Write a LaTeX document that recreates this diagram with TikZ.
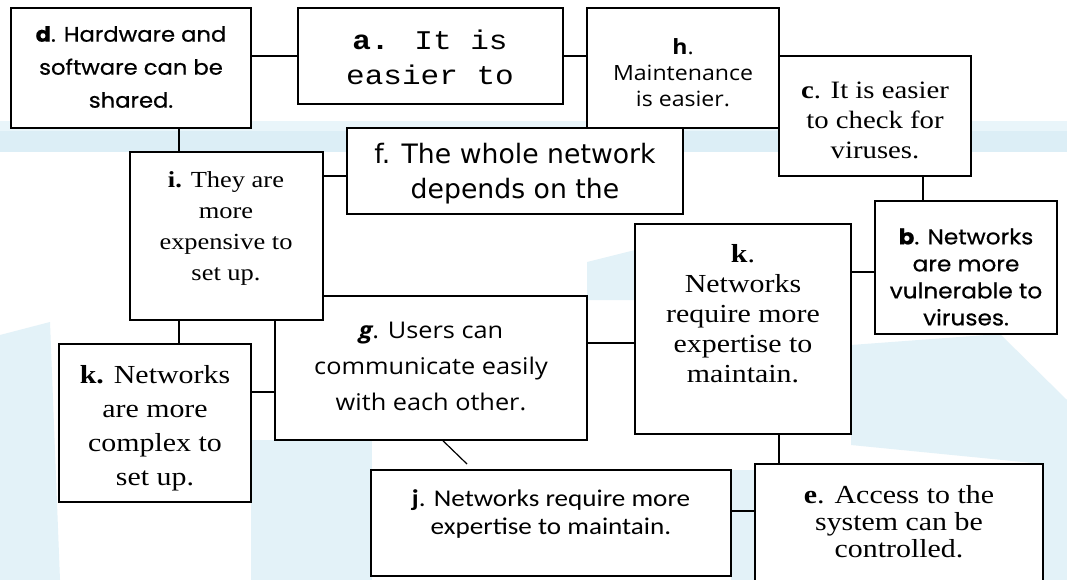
\documentclass[tikz,border=0pt]{standalone}
\usepackage{fontspec}
\newfontfamily\geo[FakeStretch=1.08,FakeBold=0.6]{Poppins}
\newfontfamily\mono[FakeStretch=1.15]{Liberation Mono}
\newfontfamily\comic[FakeStretch=1.1]{Open Sans}
\newfontfamily\tms[FakeStretch=1.15]{Liberation Serif}
\newfontfamily\camb[FakeStretch=1.15]{Liberation Serif}
\newfontfamily\tah{DejaVu Sans}
\newfontfamily\calib[FakeStretch=1.13]{Carlito}
\definecolor{wm}{RGB}{227,242,248}
\definecolor{band}{RGB}{220,238,246}
\definecolor{bandlt}{RGB}{233,245,250}
\tikzset{
  boxst/.style={draw=black, fill=white, line width=1.6pt, inner sep=0pt, rectangle},
  txt/.style={align=center, inner sep=0pt},
  conn/.style={draw=black, line width=1.4pt},
}
\newcommand\mybox[5]{\node[boxst, minimum width={#4-#2}, minimum height={#5-#3}] (#1) at ({(#2+#4)/2},{(#3+#5)/2}) {};}
\newcommand\fs[2]{\fontsize{#1}{#2}\selectfont}
\begin{document}
\begin{tikzpicture}[x=1pt,y=-1pt]
\useasboundingbox (0,0) rectangle (1067,580);
\fill[white] (0,0) rectangle (1067,580);
% background band and watermark
\fill[bandlt] (0,121) rectangle (1067,131);
\fill[band] (0,131) rectangle (1067,152);
\fill[wm] (0,335) -- (50,322) -- (60,580) -- (0,580) -- cycle;
\fill[wm] (251,440) -- (372,440) -- (372,580) -- (251,580) -- cycle;
\fill[wm] (731,470) -- (755,470) -- (755,580) -- (731,580) -- cycle;
\fill[wm] (851,345) -- (1000,334) -- (1067,400) -- (1067,580) -- (1043,580) -- (1043,464) -- (851,445) -- cycle;
\fill[wm] (587,262) -- (635,250) -- (635,300) -- (587,300) -- cycle;
% boxes
\mybox{d}{11}{8}{251}{128}
\mybox{a}{298}{8}{563}{104}
\mybox{h}{587}{8}{779}{128}
\mybox{c}{779}{56}{971}{176}
\mybox{f}{347}{128}{683}{214}
\mybox{g}{275}{296}{587}{440}
\mybox{i}{130}{152}{323}{320}
\mybox{kl}{59}{344}{251}{502}
\mybox{kr}{635}{224}{851}{434}
\mybox{b}{875}{201}{1057}{334}
\mybox{j}{371}{470}{731}{576}
\mybox{e}{755}{464}{1043}{592}
% texts
\node[txt, font=\geo\fs{21}{33}] (dt) at (131,67) {\textbf{d}. Hardware and\\software can be\\shared.};
\node[txt, font=\mono\fs{27}{35}] (at) at (430,57) {\textbf{a.} It is\\easier to};
\node[txt, font=\comic\fs{21}{26}] (ht) at (683,73) {\textbf{h}.\\Maintenance\\is easier.};
\node[txt, font=\camb\fs{25}{30}] (ct) at (875,120) {\textbf{c}. It is easier\\to check for\\viruses.};
\node[txt, font=\tah\fs{26.7}{35}] (ft) at (515,174) {f. The whole network\\depends on the};
\node[txt, font=\tms\fs{23}{31}] (it) at (226,228) {\textbf{i.} They are\\more\\expensive to\\set up.};
\node[txt, font=\comic\fs{23}{36}] (gt) at (431,366) {\textbf{\itshape g}. Users can\\communicate easily\\with each other.};
\node[txt, font=\camb\fs{26}{34}] (klt) at (155,428) {\textbf{k.} Networks\\are more\\complex to\\set up.};
\node[txt, font=\camb\fs{26}{30}] (krt) at (743,314) {\textbf{k}.\\Networks\\require more\\expertise to\\maintain.};
\node[txt, font=\geo\fs{21.5}{27}] (bt) at (966,277) {\textbf{b}. Networks\\are more\\vulnerable to\\viruses.};
\node[txt, font=\calib\fs{24}{28}] (jt) at (551,514) {\textbf{j}. Networks require more\\expertise to maintain.};
\node[txt, font=\camb\fs{26}{27}] (et) at (899,522) {\textbf{e}. Access to the\\system can be\\controlled.};
% connectors
\draw[conn] (a.west) -- (a.west -| d.east);
\draw[conn] (a.east) -- (a.east -| h.west);
\draw[conn] (d.south -| 179,0) -- (i.north -| 179,0);
\draw[conn] (i.east |- 0,176) -- (f.west |- 0,176);
\draw[conn] (c.south -| 923,0) -- (b.north -| 923,0);
\draw[conn] (kr.east |- 0,272) -- (b.west |- 0,272);
\draw[conn] (g.east |- 0,343) -- (kr.west |- 0,343);
\draw[conn] (i.south -| 179,0) -- (kl.north -| 179,0);
\draw[conn] (kl.east |- 0,392) -- (g.west |- 0,392);
\coordinate (gjend) at (467,464);
\draw[conn, line width=1.2pt] (g.south -| 443,0) -- (gjend);
\draw[conn] (kr.south -| 779,0) -- (e.north -| 779,0);
\draw[conn] (j.east |- 0,511) -- (e.west |- 0,511);
\end{tikzpicture}
\end{document}
